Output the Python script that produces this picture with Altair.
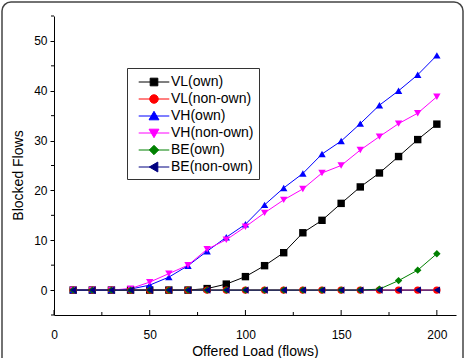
import altair as alt
import pandas as pd

loads = [10, 20, 30, 40, 50, 60, 70, 80, 90, 100, 110, 120, 130, 140, 150, 160, 170, 180, 190, 200]
series_names = ["VL(own)", "VL(non-own)", "VH(own)", "VH(non-own)", "BE(own)", "BE(non-own)"]
vl_own = [0, 0, 0, 0, 0, 0, 0, 0.3, 1.2, 2.7, 4.9, 7.5, 11.5, 14.0, 17.4, 20.7, 23.5, 26.8, 30.2, 33.3]
vl_non = [0] * 20
vh_own = [0, 0, 0, 0.2, 1.0, 2.6, 4.9, 7.8, 10.6, 13.2, 17.1, 20.5, 23.4, 27.3, 29.9, 33.4, 37.1, 40.0, 43.2, 47.1]
vh_non = [0, 0, 0, 0.3, 1.6, 3.3, 5.0, 8.2, 10.1, 12.7, 15.5, 18.1, 20.3, 23.5, 25.0, 28.1, 30.8, 33.4, 35.5, 38.8]
be_own = [0, 0, 0, 0, 0, 0, 0, 0, 0, 0, 0, 0, 0, 0, 0, 0, 0.2, 1.9, 4.0, 7.3]
be_non = [0] * 20
all_values = [vl_own, vl_non, vh_own, vh_non, be_own, be_non]

colors = ["#000000", "#ff0000", "#0000ff", "#ff00ff", "#008000", "#000080"]
shapes = ["square", "circle", "triangle-up", "triangle-down", "diamond", "triangle-left"]
legend_paths = [
    "M-1.8,0H1.8M-0.45,-0.45H0.45V0.45H-0.45Z",
    "M-1.8,0H1.8M0.5,0A0.5,0.5 0 1,1 -0.5,0A0.5,0.5 0 1,1 0.5,0Z",
    "M-1.8,0H1.8M0,-0.55L0.58,0.45L-0.58,0.45Z",
    "M-1.8,0H1.8M0,0.55L0.58,-0.45L-0.58,-0.45Z",
    "M-1.8,0H1.8M0,-0.55L0.55,0L0,0.55L-0.55,0Z",
    "M-1.8,0H1.8M-0.55,0L0.45,-0.58L0.45,0.58Z",
]

x_major = [0, 50, 100, 150, 200]
x_minor = [25, 75, 125, 175]
y_major = [0, 10, 20, 30, 40, 50]
y_minor = [-5, 5, 15, 25, 35, 45, 55]

rows = []
for name, vals in zip(series_names, all_values):
    for x, v in zip(loads, vals):
        rows.append({"load": x, "flows": v, "series": name, "order": series_names.index(name)})
df = pd.DataFrame(rows)

FONT = "Arial, Liberation Sans, sans-serif"
W, H = 402, 299

xs = alt.Scale(domain=[0, 210], nice=False, zero=False)
ys = alt.Scale(domain=[-5, 55], nice=False, zero=False)
AX = alt.Axis(values=x_major, ticks=False, grid=False, title="Offered Load (flows)",
              labelPadding=14, titlePadding=4, domainColor="#000", labelFont=FONT,
              labelFontSize=12, labelColor="#000", titleFont=FONT, titleFontSize=14,
              titleFontWeight="normal", titleColor="#000", labelFlush=False)
AY = alt.Axis(values=y_major, tickSize=4, grid=False, title="Blocked Flows",
              labelPadding=3, titlePadding=8, titleY=159, domainColor="#000", tickColor="#000",
              labelFont=FONT, labelFontSize=12, labelColor="#000", titleFont=FONT,
              titleFontSize=14, titleFontWeight="normal", titleColor="#000")

cscale = alt.Scale(domain=series_names, range=colors)

border = alt.Chart(pd.DataFrame({"a": [0]})).mark_rect(
    fillOpacity=0, stroke="#444", strokeWidth=1.5, cornerRadius=9
).encode(x=alt.value(-52), x2=alt.value(409), y=alt.value(-14), y2=alt.value(390))

lines = alt.Chart(df).mark_line(strokeWidth=1).encode(
    x=alt.X("load:Q", scale=xs, axis=AX),
    y=alt.Y("flows:Q", scale=ys, axis=AY),
    color=alt.Color("series:N", scale=cscale, legend=None),
    detail="series:N",
    order="load:Q",
)

points = alt.Chart(df).mark_point(filled=True, size=55, opacity=1).encode(
    x=alt.X("load:Q", scale=xs, axis=AX),
    y=alt.Y("flows:Q", scale=ys, axis=AY),
    color=alt.Color("series:N", scale=cscale, legend=None),
    shape=alt.Shape("series:N", scale=alt.Scale(domain=series_names, range=shapes), legend=None),
    order="order:Q",
)

lg = alt.Legend(orient="none", legendX=73, legendY=52, title=None, labelFont=FONT,
                labelFontSize=14, labelColor="#000", symbolSize=289, symbolStrokeWidth=1,
                strokeColor="#333", fillColor="#ffffff", padding=5, labelOffset=8,
                symbolOffset=13, rowPadding=1.0, symbolOpacity=1)
legend_layer = alt.Chart(df).transform_filter("datum.load < 0").mark_point(filled=True, opacity=1).encode(
    x=alt.X("load:Q", scale=xs, axis=AX),
    y=alt.Y("flows:Q", scale=ys, axis=AY),
    fill=alt.Fill("series:N", scale=alt.Scale(domain=series_names, range=colors), legend=lg, sort=series_names),
    stroke=alt.Stroke("series:N", scale=alt.Scale(domain=series_names, range=colors), legend=lg, sort=series_names),
    shape=alt.Shape("series:N", scale=alt.Scale(domain=series_names, range=legend_paths), legend=lg, sort=series_names),
)

xt_major = alt.Chart(pd.DataFrame({"t": x_major})).mark_rule(color="#000", strokeWidth=1).encode(
    x=alt.X("t:Q", scale=xs, axis=AX), y=alt.value(H), y2=alt.value(H - 5))
xt_minor = alt.Chart(pd.DataFrame({"t": x_minor})).mark_rule(color="#000", strokeWidth=1).encode(
    x=alt.X("t:Q", scale=xs, axis=AX), y=alt.value(H), y2=alt.value(H - 3))
yt_minor = alt.Chart(pd.DataFrame({"t": y_minor})).mark_rule(color="#000", strokeWidth=1).encode(
    y=alt.Y("t:Q", scale=ys, axis=AY), x=alt.value(0), x2=alt.value(-3))

chart = alt.layer(border, xt_major, xt_minor, yt_minor, lines, points, legend_layer).resolve_scale(
    shape="independent", color="independent", fill="independent", stroke="independent"
).properties(
    width=W, height=H,
    autosize=alt.AutoSizeParams(type="none"),
    padding={"left": 54, "top": 16, "right": 9, "bottom": 43},
    background="#ffffff",
).configure_view(stroke=None)

chart.save("out.html", embed_options={"renderer": "svg", "actions": False})
